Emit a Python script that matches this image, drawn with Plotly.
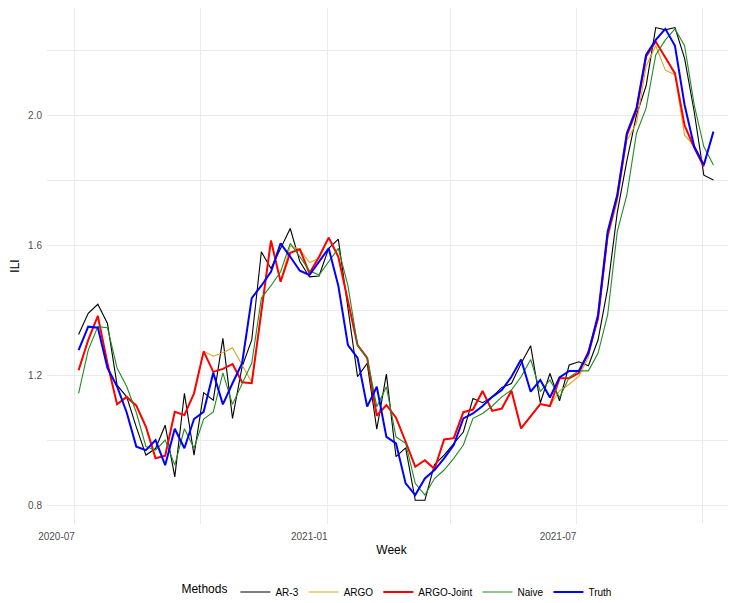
import pandas as pd
import plotly.graph_objects as go

weeks = pd.date_range("2020-07-04", periods=67, freq="7D")

truth = [1.277, 1.349, 1.346, 1.222, 1.165, 1.085, 0.980, 0.969, 1.000, 0.923,
         1.035, 0.975, 1.065, 1.087, 1.207, 1.110, 1.175, 1.237, 1.437, 1.475,
         1.518, 1.605, 1.564, 1.521, 1.508, 1.549, 1.590, 1.475, 1.292, 1.253,
         1.103, 1.164, 1.010, 0.990, 0.867, 0.831, 0.882, 0.908, 0.944, 0.985,
         1.067, 1.082, 1.105, 1.133, 1.154, 1.195, 1.248, 1.149, 1.185, 1.131,
         1.193, 1.213, 1.213, 1.267, 1.385, 1.641, 1.754, 1.944, 2.021, 2.185,
         2.231, 2.265, 2.213, 2.031, 1.903, 1.846, 1.949]

naive = [1.144, 1.277, 1.349, 1.346, 1.222, 1.165, 1.085, 0.980, 0.969, 1.000,
         0.923, 1.035, 0.975, 1.065, 1.087, 1.207, 1.110, 1.175, 1.237, 1.437,
         1.475, 1.518, 1.605, 1.564, 1.521, 1.508, 1.549, 1.590, 1.475, 1.292,
         1.253, 1.103, 1.164, 1.010, 0.990, 0.867, 0.831, 0.882, 0.908, 0.944,
         0.985, 1.067, 1.082, 1.105, 1.133, 1.154, 1.195, 1.248, 1.149, 1.185,
         1.131, 1.193, 1.213, 1.213, 1.267, 1.385, 1.641, 1.754, 1.944, 2.021,
         2.185, 2.231, 2.265, 2.213, 2.031, 1.903, 1.846]

ar3 = [1.325, 1.390, 1.418, 1.359, 1.169, 1.133, 1.040, 0.954, 0.974, 1.046,
       0.887, 1.144, 0.954, 1.146, 1.123, 1.313, 1.067, 1.226, 1.308, 1.579,
       1.528, 1.587, 1.651, 1.549, 1.502, 1.505, 1.590, 1.618, 1.400, 1.195,
       1.236, 1.034, 1.203, 0.949, 0.976, 0.815, 0.815, 0.925, 0.954, 0.990,
       1.025, 1.128, 1.115, 1.133, 1.162, 1.174, 1.236, 1.290, 1.115, 1.205,
       1.121, 1.231, 1.241, 1.229, 1.308, 1.467, 1.700, 1.860, 2.000, 2.090,
       2.269, 2.262, 2.269, 2.174, 2.010, 1.815, 1.800]

argo_joint = [1.215, 1.308, 1.382, 1.236, 1.110, 1.133, 1.106, 1.041, 0.944, 0.952,
              1.087, 1.077, 1.144, 1.273, 1.210, 1.219, 1.234, 1.178, 1.175, 1.400,
              1.614, 1.487, 1.576, 1.587, 1.513, 1.564, 1.623, 1.564, 1.426, 1.292,
              1.253, 1.075, 1.108, 1.069, 0.995, 0.918, 0.938, 0.911, 1.002, 1.006,
              1.086, 1.094, 1.151, 1.090, 1.097, 1.152, 1.036, 1.074, 1.111, 1.105,
              1.190, 1.190, 1.206, 1.272, 1.374, 1.631, 1.749, 1.938, 2.015, 2.180,
              2.226, 2.177, 2.128, 1.968, 1.900, 1.841]

argo = [1.215, 1.308, 1.382, 1.236, 1.110, 1.133, 1.106, 1.041, 0.944, 0.952,
        1.087, 1.077, 1.144, 1.273, 1.258, 1.269, 1.284, 1.232, 1.178, 1.400,
        1.614, 1.487, 1.597, 1.587, 1.546, 1.559, 1.623, 1.564, 1.426, 1.292,
        1.253, 1.075, 1.108, 1.069, 0.995, 0.918, 0.938, 0.911, 1.002, 1.006,
        1.086, 1.094, 1.151, 1.090, 1.097, 1.152, 1.036, 1.074, 1.111, 1.105,
        1.152, 1.172, 1.196, 1.255, 1.374, 1.620, 1.735, 1.922, 1.975, 2.150,
        2.213, 2.138, 2.124, 1.938, 1.905, 1.850]

methods = ["AR-3", "ARGO", "ARGO-Joint", "Naive", "Truth"]
series = [ar3, argo, argo_joint, naive, truth]
colors = ["#000000", "#DAA520", "#FF0000", "#228B22", "#0000FF"]
widths = [1.1, 1.1, 2.0, 1.1, 2.0]

x_ticks = ["2020-07-01", "2021-01-01", "2021-07-01"]
x_tick_labels = ["2020-07", "2021-01", "2021-07"]
x_minor = ["2020-10-01", "2021-04-01", "2021-10-01"]
y_ticks = [0.8, 1.2, 1.6, 2.0]
y_tick_labels = ["0.8", "1.2", "1.6", "2.0"]
y_minor = [1.0, 1.4, 1.8, 2.2]

FONT = "Liberation Sans, Arial, sans-serif"
GRID = "#EBEBEB"

fig = go.Figure()
for name, vals, col, w in zip(methods, series, colors, widths):
    fig.add_trace(go.Scatter(x=weeks[:len(vals)], y=vals, mode="lines", name=name,
                             line=dict(color=col, width=w)))

# the page body adds an 8px margin, so the figure is sized to fit inside the window
fig.update_layout(
    width=728, height=595,
    margin=dict(l=39, r=0, t=0, b=79, autoexpand=False),
    paper_bgcolor="white", plot_bgcolor="white",
    font=dict(family=FONT, color="#000000"),
    xaxis=dict(
        type="date", range=["2020-06-11", "2021-10-25 10:00"],
        tickvals=x_ticks, ticktext=x_tick_labels,
        showgrid=True, gridcolor=GRID, gridwidth=1.3,
        minor=dict(tickvals=x_minor, showgrid=True, gridcolor=GRID, gridwidth=0.7),
        zeroline=False, showline=False, ticks="", automargin=False,
        tickfont=dict(size=10, color="#4D4D4D"),
        ticklabelshift=-18, ticklabelstandoff=5,
        title=dict(text="Week", font=dict(size=12, color="#000000"), standoff=4),
    ),
    yaxis=dict(
        range=[0.742, 2.3292],
        tickvals=y_ticks, ticktext=y_tick_labels,
        showgrid=True, gridcolor=GRID, gridwidth=1.3,
        minor=dict(tickvals=y_minor, showgrid=True, gridcolor=GRID, gridwidth=0.7),
        zeroline=False, showline=False, ticks="", automargin=False,
        tickfont=dict(size=10, color="#4D4D4D"),
        ticklabelstandoff=4,
        title=dict(text="ILI", font=dict(size=12, color="#000000"), standoff=6),
    ),
    legend=dict(
        orientation="h", x=0.51, xanchor="center", y=-0.1318, yanchor="middle",
        title=dict(text="Methods", font=dict(size=12, color="#000000"), side="left"),
        font=dict(size=10, color="#000000"), itemwidth=30,
        bgcolor="rgba(0,0,0,0)",
    ),
    showlegend=True,
)

fig.write_html("out.html")
